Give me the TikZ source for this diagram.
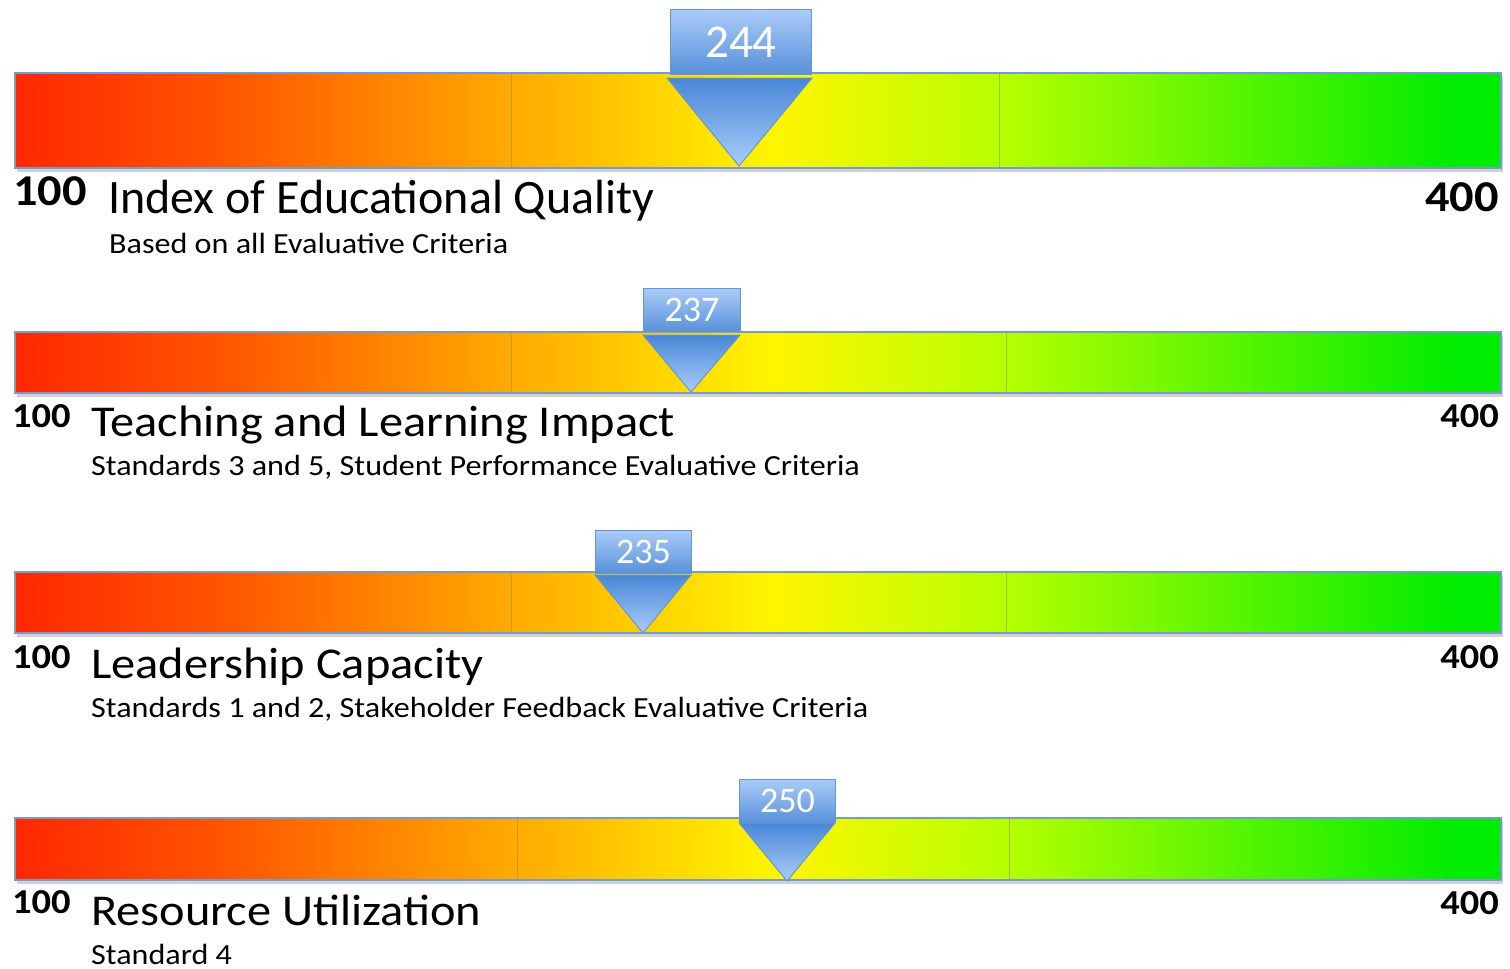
\documentclass[tikz,border=0pt]{standalone}
\usepackage{fontspec}
\setmainfont{Carlito}
\newfontfamily\widefont[FakeStretch=1.1]{Carlito}
\definecolor{cR}{RGB}{255,40,0}
\definecolor{cR2}{RGB}{255,85,0}
\definecolor{cO}{RGB}{255,168,0}
\definecolor{cY}{RGB}{255,245,0}
\definecolor{cYG}{RGB}{185,255,0}
\definecolor{cG}{RGB}{0,236,0}
\definecolor{barborder}{RGB}{120,155,205}
\definecolor{boxtop}{RGB}{170,203,248}
\definecolor{boxbot}{RGB}{88,145,218}
\definecolor{boxline}{RGB}{100,150,210}
\definecolor{tritop}{RGB}{72,135,215}
\definecolor{tribot}{RGB}{170,205,250}
\pgfdeclarehorizontalshading{scalegrad}{100bp}{color(0bp)=(cR); color(25bp)=(cR); color(32bp)=(cR2); color(41.5bp)=(cO); color(50.5bp)=(cY); color(58bp)=(cYG); color(73.5bp)=(cG); color(100bp)=(cG)}
\tikzset{
  bar/.style={draw=barborder, line width=1.2pt, shading=scalegrad, inner sep=0pt, outer sep=0pt, anchor=north west},
  barshadow/.style={fill=black, opacity=0.18},
  divider/.style={draw=gray!75!olive, line width=0.9pt, opacity=0.55},
  markbox/.style={draw=boxline, line width=1pt, top color=boxtop, bottom color=boxbot, text=white, inner sep=0pt, anchor=north west},
  tri/.style={draw=boxline, line width=1pt, top color=tritop, bottom color=tribot},
  ends/.style={font=\widefont\bfseries\fontsize{35}{38}\selectfont, inner sep=0pt},
  bigends/.style={font=\widefont\bfseries\fontsize{44}{48}\selectfont, inner sep=0pt},
  title/.style={font=\widefont\fontsize{44}{50}\selectfont, anchor=base west, inner sep=0pt},
  sub/.style={font=\widefont\fontsize{29.2}{34}\selectfont, anchor=base west, inner sep=0pt},
}
\begin{document}
\begin{tikzpicture}[x=1pt, y=-1pt]
\useasboundingbox (0,0) rectangle (1510,969);
% ---------- bar 1
\fill[barshadow] (17,76) rectangle (1503,172);
\node[bar, minimum width=1486pt, minimum height=95pt] (bar1) at (15,73) {};
\draw[divider] (511,74) -- (511,167);
\draw[divider] (999,74) -- (999,167);
\node[markbox, minimum width=141pt, minimum height=65pt, font=\fontsize{47}{50}\selectfont] (m1) at (670,9) {244};
\path[tri] (667,78) -- (812,78) -- (739,166) -- cycle;
\node[bigends, anchor=base west] (lo1) at (13,205) {100};
\node[bigends, anchor=base east] (hi1) at (1499,211) {400};
\node[title, font=\fontsize{48}{54}\selectfont] (t1) at (108,213) {Index of Educational Quality};
\node[sub] (s1) at (109,253) {Based on all Evaluative Criteria};
% ---------- bar 2
\fill[barshadow] (17,335) rectangle (1503,397);
\node[bar, minimum width=1486pt, minimum height=61pt] (bar2) at (15,332) {};
\draw[divider] (511,333) -- (511,392);
\draw[divider] (1006,333) -- (1006,392);
\node[markbox, minimum width=97pt, minimum height=43pt, font=\fontsize{36}{40}\selectfont] (m2) at (643,288) {237};
\path[tri] (643,335) -- (740,335) -- (691,392) -- cycle;
\node[ends, anchor=base west] (lo2) at (12,427) {100};
\node[ends, anchor=base east] (hi2) at (1499,427) {400};
\node[title] (t2) at (91,436) {Teaching and Learning Impact};
\node[sub] (s2) at (91,475) {Standards 3 and 5, Student Performance Evaluative Criteria};
% ---------- bar 3
\fill[barshadow] (17,575) rectangle (1503,637);
\node[bar, minimum width=1486pt, minimum height=61pt] (bar3) at (15,572) {};
\draw[divider] (511,573) -- (511,632);
\draw[divider] (1006,573) -- (1006,632);
\node[markbox, minimum width=96pt, minimum height=43pt, font=\fontsize{36}{40}\selectfont] (m3) at (595,530) {235};
\path[tri] (595,575) -- (691,575) -- (643,633) -- cycle;
\node[ends, anchor=base west] (lo3) at (12,668) {100};
\node[ends, anchor=base east] (hi3) at (1499,668) {400};
\node[title] (t3) at (91,678) {Leadership Capacity};
\node[sub] (s3) at (91,717) {Standards 1 and 2, Stakeholder Feedback Evaluative Criteria};
% ---------- bar 4
\fill[barshadow] (17,821) rectangle (1503,884);
\node[bar, minimum width=1486pt, minimum height=62pt] (bar4) at (15,818) {};
\draw[divider] (517,819) -- (517,879);
\draw[divider] (1009,819) -- (1009,879);
\node[markbox, minimum width=96pt, minimum height=43pt, font=\fontsize{36}{40}\selectfont] (m4) at (739,779) {250};
\path[tri] (739,823) -- (835,823) -- (787,881) -- cycle;
\node[ends, anchor=base west] (lo4) at (12,913) {100};
\node[ends, anchor=base east] (hi4) at (1499,914) {400};
\node[title] (t4) at (91,925) {Resource Utilization};
\node[sub] (s4) at (91,964) {Standard 4};
\end{tikzpicture}
\end{document}
